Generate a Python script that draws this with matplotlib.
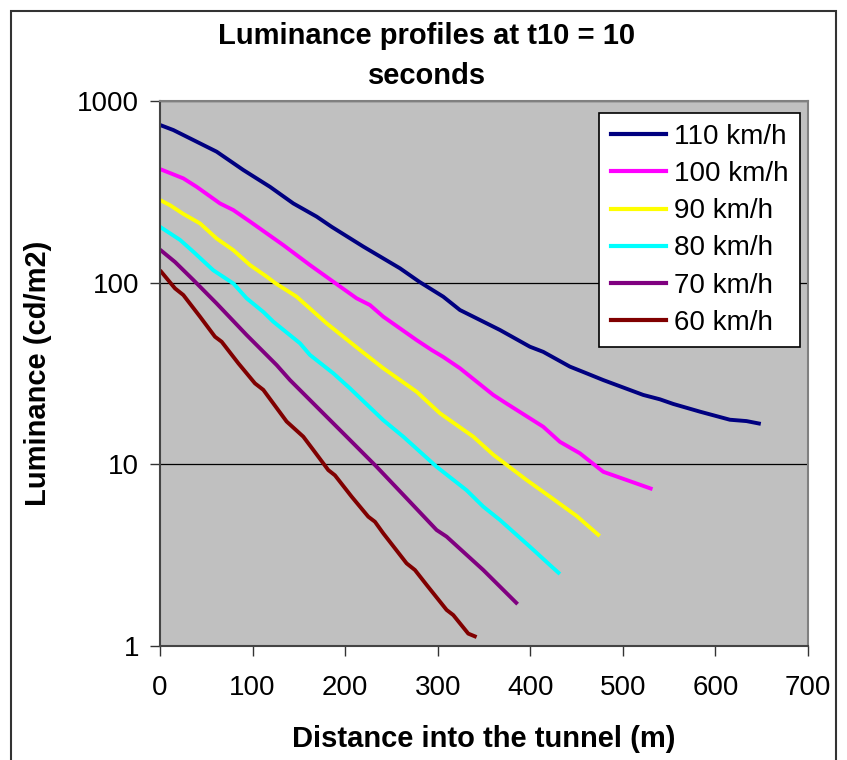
import matplotlib.pyplot as plt
from matplotlib.lines import Line2D

plt.rcParams['font.family'] = ['Liberation Sans', 'DejaVu Sans']

# distance (m) and luminance (cd/m2) for each approach speed
d110 = [0, 14.4, 39.6, 61.2, 90, 118.8, 144, 169.2, 185.4, 219.6, 259.2, 280.4, 306, 324, 338.4,
        367.2, 399.6, 414, 442.8, 460.8, 478.8, 522, 540, 554.4, 583.2, 615.6, 633.6, 649]
l110 = [738, 692, 597, 526, 417, 337, 273, 231, 203, 158, 120, 100.9, 83.7, 70.7, 65,
        54.9, 44.4, 41.6, 34.5, 31.7, 29.1, 24.1, 22.8, 21.5, 19.5, 17.6, 17.3, 16.7]

d100 = [0, 25.2, 39.6, 64.8, 79.2, 97.2, 133.2, 162, 189, 212.4, 226.8, 241.2, 277.2, 293.4,
        306, 324, 360, 374.4, 414, 432, 453.6, 478.8, 504, 532]
l100 = [422, 375, 337, 273, 251, 217, 161, 125, 99.7, 82, 75.3, 65, 48.3, 42.6,
        39, 33.8, 24.1, 21.6, 16.1, 13.3, 11.5, 9.1, 8.2, 7.3]

d90 = [0, 10.8, 25.2, 43.2, 61.2, 79.2, 97.2, 115.2, 124.2, 147.6, 180, 216, 241.2, 277.2,
       302.4, 338.4, 360, 396, 421.2, 450, 475]
l90 = [285, 267, 239, 212, 175, 151, 125, 108, 99.7, 83.7, 59.7, 42.6, 33.8, 25.1,
       19.1, 14.2, 11.3, 8.2, 6.64, 5.2, 4.03]

d80 = [0, 21.6, 36, 57.6, 79.2, 93.6, 111.6, 122.4, 151.2, 162, 187.2, 205.2, 241.2, 262.8,
       298.8, 331.2, 349.2, 367.2, 399.6, 421.2, 432]
l80 = [203, 172, 148, 117, 99, 82, 69, 61, 46.4, 40, 31.7, 26.2, 17.5, 14.2,
       9.7, 7.2, 5.85, 4.94, 3.52, 2.79, 2.49]

d70 = [0, 16.2, 36, 61.2, 93.6, 126, 140.4, 172.8, 201.6, 234, 266.4, 298.8, 309.6, 349.2, 386.3]
l70 = [152, 130, 103.5, 76.8, 51.5, 35.2, 29.1, 19.9, 14.2, 9.7, 6.5, 4.35, 4.0, 2.62, 1.70]

d60 = [0, 16.2, 25.2, 43.2, 59.4, 66.6, 84.6, 102.6, 111.6, 136.8, 154.8, 165.6, 181.8, 189,
       207, 225, 232.2, 241.2, 266.4, 275.4, 288, 309.6, 316.8, 333, 342]
l60 = [117, 93, 85.5, 65, 50.4, 47.3, 36, 27.9, 25.7, 17.2, 14.2, 12, 9.3, 8.7,
       6.64, 5.15, 4.83, 4.17, 2.85, 2.62, 2.17, 1.58, 1.48, 1.17, 1.12]

series = [
    ('110 km/h', d110, l110, '#000080'),
    ('100 km/h', d100, l100, '#FF00FF'),
    ('90 km/h', d90, l90, '#FFFF00'),
    ('80 km/h', d80, l80, '#00FFFF'),
    ('70 km/h', d70, l70, '#800080'),
    ('60 km/h', d60, l60, '#800000'),
]

fig = plt.figure(figsize=(8.47, 7.6), dpi=100)
ax = fig.add_axes([160 / 847, 1 - 646 / 760, 648 / 847, 545 / 760])
ax.set_facecolor('#C0C0C0')

# outer chart frame
fig.add_artist(plt.Rectangle((11 / 847, -0.05), 825 / 847, 1.05 - 11 / 760,
                             transform=fig.transFigure, fill=False,
                             edgecolor='#333333', linewidth=1.5))

for name, x, y, c in series:
    ax.plot(x, y, color=c, linewidth=2.8, label=name, solid_capstyle='butt')

ax.set_yscale('log')
ax.set_xlim(0, 700)
ax.set_ylim(1, 1000)
ax.set_xticks(range(0, 701, 100))
ax.set_yticks([1, 10, 100, 1000])
ax.set_yticklabels(['1', '10', '100', '1000'])
ax.minorticks_off()
ax.yaxis.grid(True, color='black', linewidth=0.9)
ax.set_axisbelow(True)

ax.tick_params(axis='both', direction='out', length=7, width=1, color='#333333',
               labelsize=20)
ax.tick_params(axis='x', pad=14)
ax.tick_params(axis='y', pad=8)
for s in ['left', 'bottom']:
    ax.spines[s].set_color('#444444')
    ax.spines[s].set_linewidth(1.5)
for s in ['top', 'right']:
    ax.spines[s].set_color('#808080')
    ax.spines[s].set_linewidth(1.5)

ax.set_xlabel('Distance into the tunnel (m)', fontsize=21, fontweight='bold', labelpad=17)
ax.set_ylabel('Luminance (cd/m2)', fontsize=21, fontweight='bold', labelpad=18)
fig.text(427 / 847, 1 - 56 / 760, 'Luminance profiles at t10 = 10\nseconds', fontsize=21,
         fontweight='bold', ha='center', va='center', linespacing=1.5)

handles = [Line2D([0], [0], color=c, linewidth=3) for _, _, _, c in series]
leg = ax.legend(handles, [s[0] for s in series], loc='upper right',
                bbox_to_anchor=(1 - 8 / 648, 1 - 12 / 545), fontsize=20,
                frameon=True, fancybox=False, framealpha=1, edgecolor='black',
                handlelength=2.0, handletextpad=0.3, labelspacing=0.4,
                borderpad=0.4, borderaxespad=0)
leg.get_frame().set_linewidth(1.2)

fig.savefig('out.png', dpi=100)
